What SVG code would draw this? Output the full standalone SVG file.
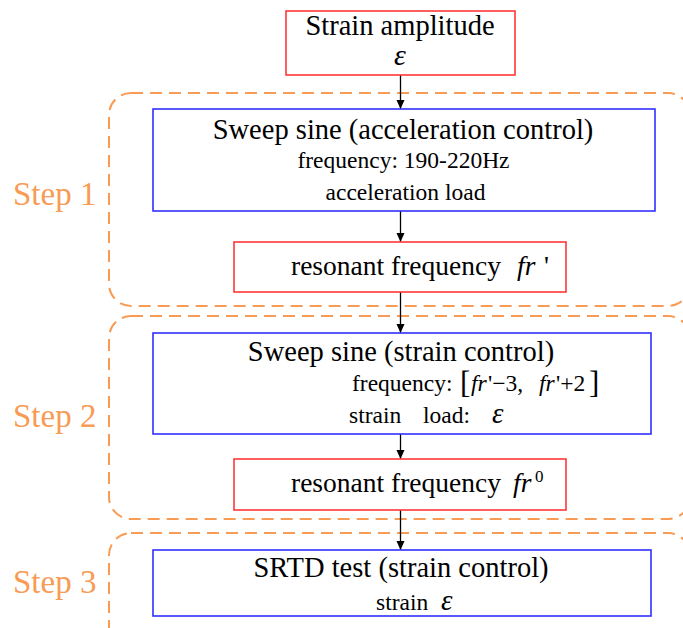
<svg xmlns="http://www.w3.org/2000/svg" width="683" height="628" viewBox="0 0 683 628">
<style>
text{font-family:"Liberation Serif","Times New Roman",serif;fill:#000}
.t{font-size:28.5px}
.s{font-size:23.5px}
.i{font-style:italic}
.step{font-size:33px;fill:#F79B55}
.grp{fill:none;stroke:#F79B55;stroke-width:2;stroke-dasharray:12 7}
.red{fill:#fff;stroke:#FF3838;stroke-width:1.6}
.blue{fill:#fff;stroke:#3030FF;stroke-width:1.6}
.conn line{stroke:#000;stroke-width:1.3}
</style>
<defs>
<marker id="ah" markerWidth="10" markerHeight="10" refX="9" refY="5" orient="auto" markerUnits="userSpaceOnUse">
<path d="M0,1 L9,5 L0,9 Z" fill="#000"/>
</marker>
</defs>
<rect width="683" height="628" fill="#fff"/>

<g id="step1-group">
<rect class="grp" x="109" y="93" width="581" height="213" rx="22"/>
<text class="step" x="13" y="205">Step 1</text>
</g>
<g id="step2-group">
<rect class="grp" x="109" y="316" width="581" height="203" rx="22"/>
<text class="step" x="13" y="427">Step 2</text>
</g>
<g id="step3-group">
<rect class="grp" x="109" y="533" width="581" height="140" rx="22"/>
<text class="step" x="13" y="593">Step 3</text>
</g>

<g class="conn" id="connectors">
<line x1="400.5" y1="75" x2="400.5" y2="109" marker-end="url(#ah)"/>
<line x1="400.5" y1="211" x2="400.5" y2="242" marker-end="url(#ah)"/>
<line x1="400.5" y1="292" x2="400.5" y2="333" marker-end="url(#ah)"/>
<line x1="400.5" y1="434" x2="400.5" y2="459" marker-end="url(#ah)"/>
<line x1="400.5" y1="510" x2="400.5" y2="550" marker-end="url(#ah)"/>
</g>

<g id="strain-amplitude">
<rect class="red" x="286" y="11" width="229" height="64"/>
<text class="t" x="400" y="35" text-anchor="middle">Strain amplitude</text>
<text class="i" x="400" y="65" text-anchor="middle" font-size="30">ε</text>
</g>

<g id="sweep-accel">
<rect class="blue" x="153" y="109" width="502" height="102"/>
<text class="t" x="403" y="139" text-anchor="middle">Sweep sine (acceleration control)</text>
<text class="s" x="403.5" y="168" text-anchor="middle">frequency: 190-220Hz</text>
<text class="s" x="405.5" y="200" text-anchor="middle">acceleration load</text>
</g>

<g id="resonant-1">
<rect class="red" x="234" y="242" width="332" height="50"/>
<text font-size="27.5" x="291" y="275">resonant frequency</text>
<text class="i" font-size="27.5" x="517" y="275">fr</text>
<text font-size="27.5" x="544" y="275">'</text>
</g>

<g id="sweep-strain">
<rect class="blue" x="153" y="333" width="498" height="101"/>
<text class="t" x="401" y="361" text-anchor="middle">Sweep sine (strain control)</text>
<text class="s" x="352" y="391">frequency:</text>
<text font-size="31" x="460" y="393">[</text>
<text class="s i" x="471" y="391">fr</text>
<text class="s" x="488" y="391">'−3,</text>
<text class="s i" x="539" y="391">fr</text>
<text class="s" x="556" y="391">'+2</text>
<text font-size="31" x="589" y="393">]</text>
<text class="s" x="349" y="423">strain</text>
<text class="s" x="423" y="423">load:</text>
<text class="i" font-size="29" x="492" y="423">ε</text>
</g>

<g id="resonant-0">
<rect class="red" x="234" y="459" width="332" height="51"/>
<text font-size="27.5" x="291" y="492">resonant frequency</text>
<text class="i" font-size="27.5" x="513" y="492">fr</text>
<text font-size="17" x="535" y="482">0</text>
</g>

<g id="srtd-test">
<rect class="blue" x="153" y="550" width="498" height="66"/>
<text class="t" x="401" y="577" text-anchor="middle">SRTD test (strain control)</text>
<text class="s" x="376" y="610">strain</text>
<text class="i" font-size="29" x="441" y="610">ε</text>
</g>
</svg>
